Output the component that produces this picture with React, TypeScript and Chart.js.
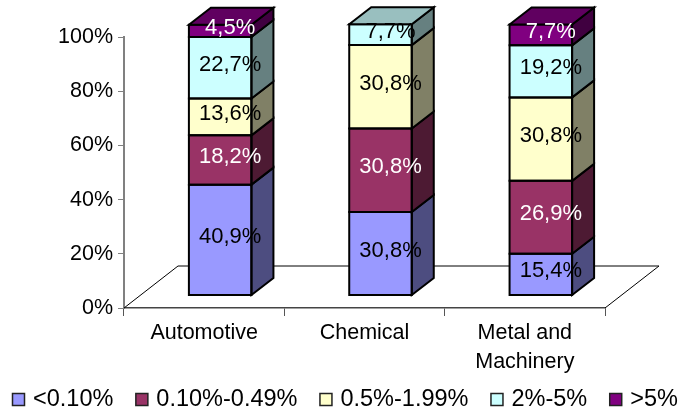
import React, { useEffect, useRef } from "react";
import { Chart, registerables } from "chart.js";

Chart.register(...registerables);

const categories = ["Automotive", "Chemical", ["Metal and", "Machinery"]];
const seriesNames = ["<0.10%", "0.10%-0.49%", "0.5%-1.99%", "2%-5%", ">5%"];
const below010 = [40.9, 30.8, 15.4];
const from010to049 = [18.2, 30.8, 26.9];
const from05to199 = [13.6, 30.8, 30.8];
const from2to5 = [22.7, 7.7, 19.2];
const above5 = [4.5, 0, 7.7];
const seriesColors = [[153, 153, 255], [153, 51, 102], [255, 255, 204], [204, 255, 255], [128, 0, 128]];
const labelColors = ["#000", "#fff", "#000", "#000", "#fff"];
const yTicks = [0, 20, 40, 60, 80, 100];

const FONT = "'Liberation Sans', Arial, sans-serif";
const FRONT_DX = 16, FRONT_DY = -12.5;
const BAR_DX = 22, BAR_DY = -17;
const FLOOR_DX = 54, FLOOR_DY = -42;

const shade = (c: number[], f: number) => `rgb(${c.map((v) => Math.round(v * f)).join(",")})`;

const threeD = {
  id: "threeD",
  beforeDatasetsDraw(chart: any) {
    const { ctx, scales } = chart;
    const l = scales.x.left, r = scales.x.right, b = scales.y.bottom;
    ctx.save();
    ctx.strokeStyle = "#000";
    ctx.lineWidth = 1;
    ctx.beginPath();
    ctx.moveTo(l, b);
    ctx.lineTo(l + FLOOR_DX, b + FLOOR_DY);
    ctx.lineTo(r + FLOOR_DX, b + FLOOR_DY);
    ctx.lineTo(r, b);
    ctx.stroke();
    ctx.restore();
    ctx.save();
    ctx.translate(FRONT_DX, FRONT_DY);
  },
  afterDatasetsDraw(chart: any) {
    const { ctx, data } = chart;
    ctx.lineWidth = 2;
    ctx.strokeStyle = "#000";
    ctx.lineJoin = "miter";
    const face = (pts: number[][], fill: string | null) => {
      ctx.beginPath();
      pts.forEach((p, i) => (i ? ctx.lineTo(p[0], p[1]) : ctx.moveTo(p[0], p[1])));
      ctx.closePath();
      if (fill) {
        ctx.fillStyle = fill;
        ctx.fill();
      }
      ctx.stroke();
    };
    data.labels.forEach((_: any, j: number) => {
      let topInfo: any = null;
      data.datasets.forEach((ds: any, i: number) => {
        if (!ds.data[j]) return;
        const el = chart.getDatasetMeta(i).data[j];
        const left = el.x - el.width / 2, right = el.x + el.width / 2;
        face(
          [[right, el.y], [right + BAR_DX, el.y + BAR_DY], [right + BAR_DX, el.base + BAR_DY], [right, el.base]],
          shade(seriesColors[i], 0.5)
        );
        face([[left, el.y], [right, el.y], [right, el.base], [left, el.base]], null);
        topInfo = { el, i };
      });
      if (topInfo) {
        const { el, i } = topInfo;
        const a = el.x - el.width / 2, c = el.x + el.width / 2;
        face(
          [[a, el.y], [a + BAR_DX, el.y + BAR_DY], [c + BAR_DX, el.y + BAR_DY], [c, el.y]],
          shade(seriesColors[i], 0.75)
        );
      }
    });
    ctx.font = `22px ${FONT}`;
    ctx.textAlign = "center";
    ctx.textBaseline = "middle";
    data.datasets.forEach((ds: any, i: number) => {
      ds.data.forEach((v: number, j: number) => {
        if (!v) return;
        const el = chart.getDatasetMeta(i).data[j];
        ctx.fillStyle = labelColors[i];
        ctx.fillText(v.toFixed(1).replace(".", ",") + "%", el.x + 10, (el.y + el.base) / 2 - 3);
      });
    });
    ctx.restore();
  },
  afterDraw(chart: any) {
    const { ctx, data } = chart;
    ctx.save();
    ctx.font = `23.5px ${FONT}`;
    ctx.textAlign = "left";
    ctx.textBaseline = "middle";
    const cy = 399.5;
    let x = 12;
    data.datasets.forEach((ds: any, i: number) => {
      ctx.fillStyle = shade(seriesColors[i], 1);
      ctx.strokeStyle = "#222";
      ctx.lineWidth = 1.5;
      ctx.fillRect(x + 0.5, cy - 6, 12, 12);
      ctx.strokeRect(x + 0.5, cy - 6, 12, 12);
      ctx.fillStyle = "#000";
      ctx.fillText(ds.label, x + 21, cy);
      x += 21 + ctx.measureText(ds.label).width + 22;
    });
    ctx.restore();
  },
};

const seriesValues = [below010, from010to049, from05to199, from2to5, above5];

export default function App() {
  const ref = useRef<HTMLCanvasElement>(null);
  useEffect(() => {
    document.body.style.margin = "0";
    const chart = new Chart(ref.current as any, {
      type: "bar",
      data: {
        labels: categories as any,
        datasets: seriesNames.map((name, i) => ({
          label: name,
          data: seriesValues[i],
          backgroundColor: shade(seriesColors[i], 1),
          borderWidth: 0,
          barPercentage: 0.39,
          categoryPercentage: 1,
          clip: false,
        })) as any,
      },
      options: {
        animation: false,
        responsive: false,
        layout: { padding: { top: 37, left: 0, right: 0, bottom: 0 } },
        scales: {
          x: {
            stacked: true,
            grid: { drawOnChartArea: false, color: "#555", tickLength: 8 },
            border: { color: "#444", width: 1.5 },
            ticks: { color: "#000", font: { family: FONT, size: 21.5, lineHeight: 1.35 }, padding: 3, maxRotation: 0, autoSkip: false },
            afterFit: (s: any) => { s.height = 107; },
          },
          y: {
            stacked: true,
            min: 0,
            max: 100,
            grid: { drawOnChartArea: false, color: "#808080", tickLength: 6 },
            border: { color: "#808080", width: 2 },
            ticks: {
              color: "#000",
              font: { family: FONT, size: 21.5 },
              padding: 5,
              stepSize: 20,
              callback: (v: any) => (yTicks.includes(v) ? v + "%" : ""),
            },
            afterFit: (s: any) => { s.width = 124; },
          },
          pad: {
            type: "linear",
            position: "right",
            grid: { display: false },
            border: { display: false },
            ticks: { display: false },
            afterFit: (s: any) => { s.width = 75; },
          },
        },
        plugins: {
          legend: { display: false },
          tooltip: { enabled: false },
        },
      } as any,
      plugins: [threeD],
    });
    return () => chart.destroy();
  }, []);
  return <canvas ref={ref} width={680} height={415} style={{ display: "block" }} />;
}
